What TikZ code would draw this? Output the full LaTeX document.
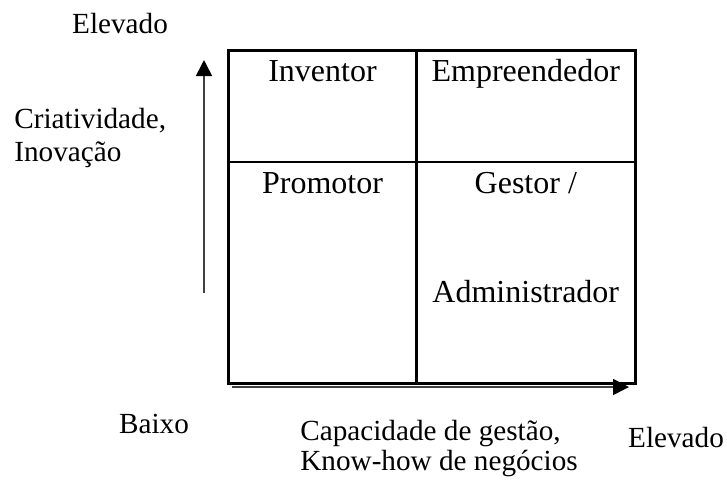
\documentclass[tikz,border=0pt]{standalone}
\usepackage{fontspec}
\setmainfont{Liberation Serif}
\usetikzlibrary{arrows.meta}

\begin{document}
\begin{tikzpicture}[x=0.5pt, y=-0.5pt, font=\fontsize{16}{16}\selectfont,
  lbl/.style={inner sep=0pt, anchor=base},
  outer/.style={lbl, font=\fontsize{14.6}{16.5}\selectfont},
  side/.style={outer, anchor=base west, align=left},
  frame/.style={draw, line width=1.5pt},
  divider/.style={draw, line width=1.1pt},
  axis/.style={draw=black!75, line width=0.8pt, -{Triangle[length=8pt, width=8pt, color=black]}}]
\useasboundingbox (0,0) rectangle (727,484);
% quadrant frame
\coordinate (nw) at (228.5,50);
\coordinate (se) at (635,383);
\coordinate (midtop) at (416.5,50);
\coordinate (midbot) at (416.5,383);
\coordinate (midl) at (228.5,162);
\coordinate (midr) at (635,162);
\draw[frame] (nw) rectangle (se);
\draw[divider] (midtop) -- (midbot);
\draw[divider] (midl) -- (midr);
% cell labels
\node[lbl] (inv) at (322.5,81) {Inventor};
\node[lbl] (emp) at (525.8,81) {Empreendedor};
\node[lbl] (prom) at (322.5,193) {Promotor};
\node[lbl] (gest) at (525.8,193) {Gestor /};
\node[lbl] (adm) at (525.8,302) {Administrador};
% axes
\coordinate (ybot) at (204,293);
\coordinate (ytop) at (204,60);
\coordinate (xlft) at (232,387);
\coordinate (xrgt) at (629,387);
\draw[axis] (ybot) -- (ytop);
\draw[axis] (xlft) -- (xrgt);
% axis labels
\node[outer] (yhigh) at (120,33) {Elevado};
\node[side] (ytxt) at (14,161) {Criatividade,\\Inova\c{c}\~{a}o};
\node[outer] (low) at (154,433) {Baixo};
\node[side] (xtxt) at (300,470) {Capacidade de gest\~{a}o,\\[-1.5pt]Know-how de neg\'{o}cios};
\node[outer] (xhigh) at (676,447) {Elevado};
\end{tikzpicture}
\end{document}
